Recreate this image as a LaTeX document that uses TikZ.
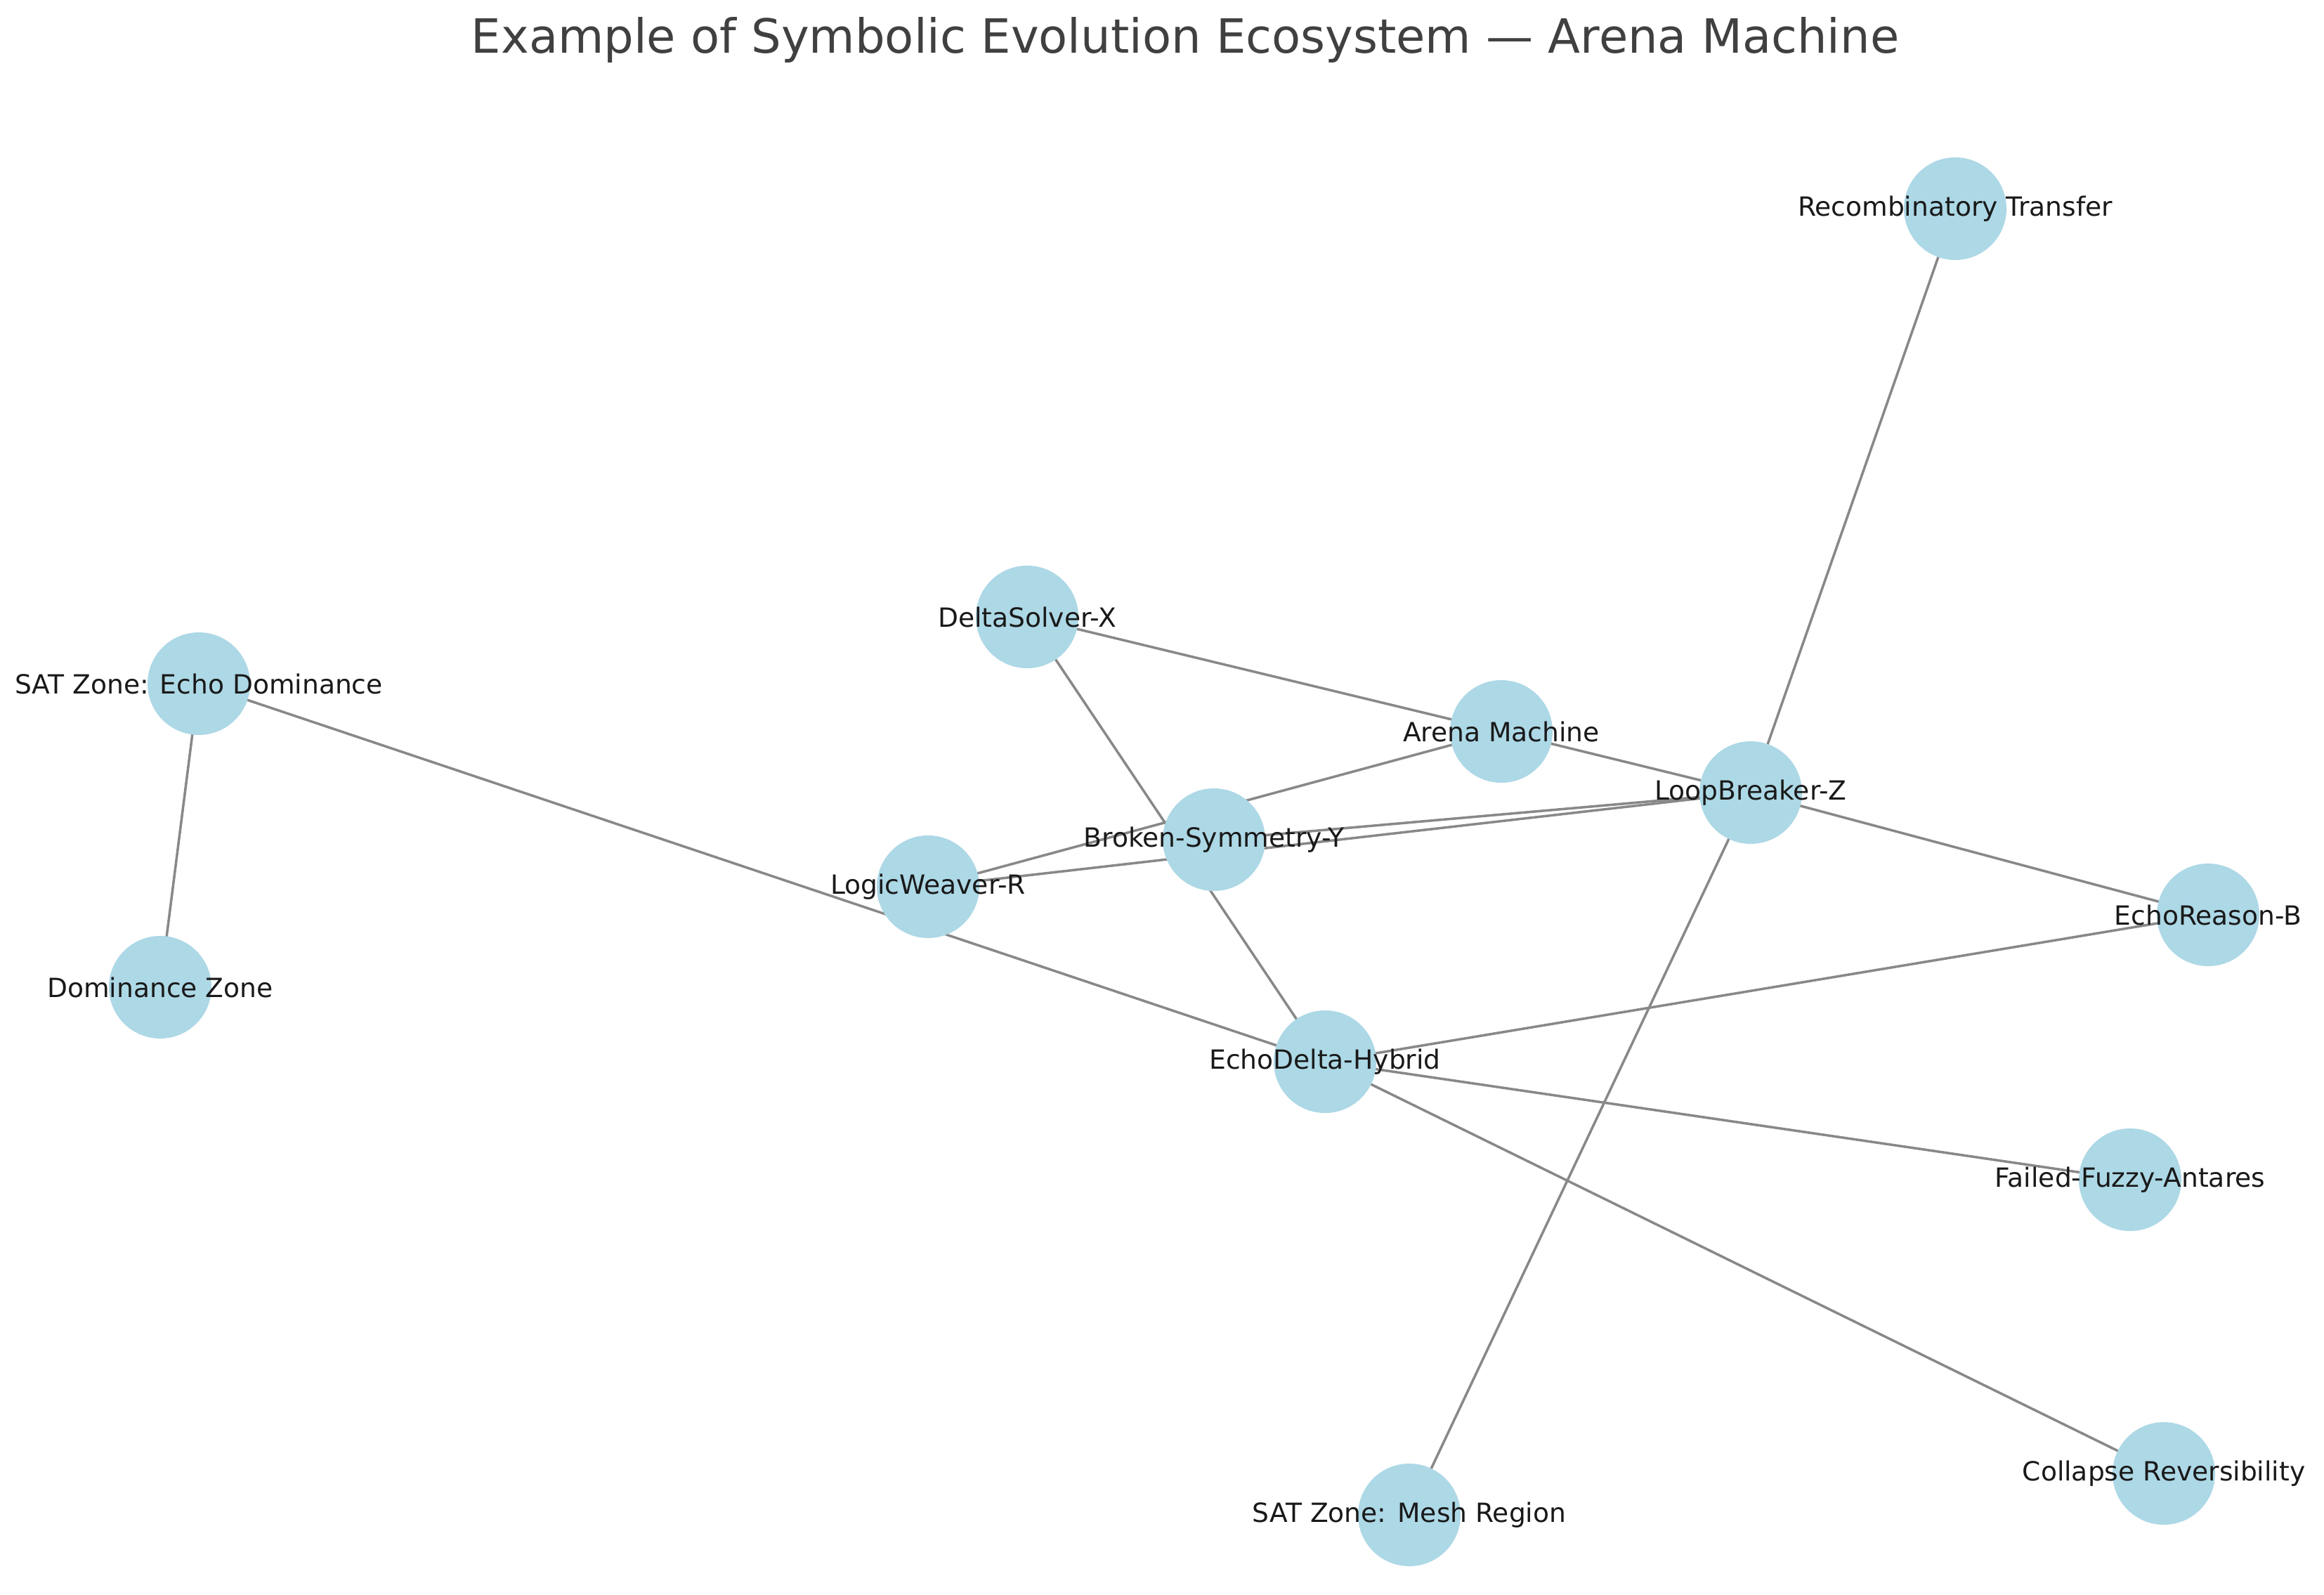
\documentclass[tikz,border=0pt]{standalone}
\usepackage{fontspec}
\setmainfont{DejaVu Sans}
\usepackage{xcolor}
\usetikzlibrary{backgrounds}

\definecolor{nodeblue}{HTML}{ADD8E6}
\definecolor{edgegray}{HTML}{888888}
\definecolor{titlegray}{HTML}{404040}

\begin{document}
\begin{tikzpicture}[
      x = 1cm, y = 1cm,
      dot/.style  = {circle, fill = nodeblue, minimum size = 1.46cm, inner sep = 0pt},
      lbl/.style  = {font = \fontsize{10.7}{12}\selectfont, text = black!90, inner sep = 0pt},
      edge/.style = {draw = edgegray, line width = 1pt},
      ttl/.style  = {font = \fontsize{19.1}{22}\selectfont, text = titlegray, inner sep = 0pt}
    ]
  \useasboundingbox (0,0) rectangle (33.08,-22.70);

  % ---------- title --------------------------------------------------------
  \node[ttl] (title) at (16.87,-0.57) {Example of Symbolic Evolution Ecosystem — Arena Machine};

  % ---------- agents -------------------------------------------------------
  \node[dot] (recomb)    at (27.83,-2.97)  {};
  \node[dot] (delta)     at (14.62,-8.78)  {};
  \node[dot] (satecho)   at (2.83,-9.73)   {};
  \node[dot] (arena)     at (21.37,-10.41) {};
  \node[dot] (loop)      at (24.92,-11.28) {};
  \node[dot] (broken)    at (17.28,-11.95) {};
  \node[dot] (weaver)    at (13.21,-12.62) {};
  \node[dot] (dominance) at (2.28,-14.05)  {};
  \node[dot] (reason)    at (31.43,-13.02) {};
  \node[dot] (hybrid)    at (18.86,-15.11) {};
  \node[dot] (failed)    at (30.32,-16.79) {};
  \node[dot] (collapse)  at (30.80,-20.97) {};
  \node[dot] (mesh)      at (20.06,-21.56) {};

  % ---------- links (under the circles) ------------------------------------
  \begin{scope}[on background layer]
    \fill[white] (0,0) rectangle (33.08,-22.70);
    \draw[edge] (satecho.center) -- (dominance.center);
    \draw[edge] (satecho.center) -- (hybrid.center);
    \draw[edge] (delta.center)   -- (arena.center);
    \draw[edge] (arena.center)   -- (loop.center);
    \draw[edge] (delta.center)   -- (hybrid.center);
    \draw[edge] (weaver.center)  -- (arena.center);
    \draw[edge] (weaver.center)  -- (loop.center);
    \draw[edge] (broken.center)  -- (loop.center);
    \draw[edge] (recomb.center)  -- (loop.center);
    \draw[edge] (loop.center)    -- (reason.center);
    \draw[edge] (loop.center)    -- (mesh.center);
    \draw[edge] (hybrid.center)  -- (reason.center);
    \draw[edge] (hybrid.center)  -- (failed.center);
    \draw[edge] (hybrid.center)  -- (collapse.center);
  \end{scope}

  % ---------- names ---------------------------------------------------------
  \node[lbl] (recomb-t)    at (recomb)    {Recombinatory Transfer};
  \node[lbl] (delta-t)     at (delta)     {DeltaSolver-X};
  \node[lbl] (satecho-t)   at (satecho)   {SAT Zone: Echo Dominance};
  \node[lbl] (arena-t)     at (arena)     {Arena Machine};
  \node[lbl] (loop-t)      at (loop)      {LoopBreaker-Z};
  \node[lbl] (broken-t)    at (broken)    {Broken-Symmetry-Y};
  \node[lbl] (weaver-t)    at (weaver)    {LogicWeaver-R};
  \node[lbl] (dominance-t) at (dominance) {Dominance Zone};
  \node[lbl] (reason-t)    at (reason)    {EchoReason-B};
  \node[lbl] (hybrid-t)    at (hybrid)    {EchoDelta-Hybrid};
  \node[lbl] (failed-t)    at (failed)    {Failed-Fuzzy-Antares};
  \node[lbl] (collapse-t)  at (collapse)  {Collapse Reversibility};
  \node[lbl] (mesh-t)      at (mesh)      {SAT Zone: Mesh Region};

\end{tikzpicture}
\end{document}
